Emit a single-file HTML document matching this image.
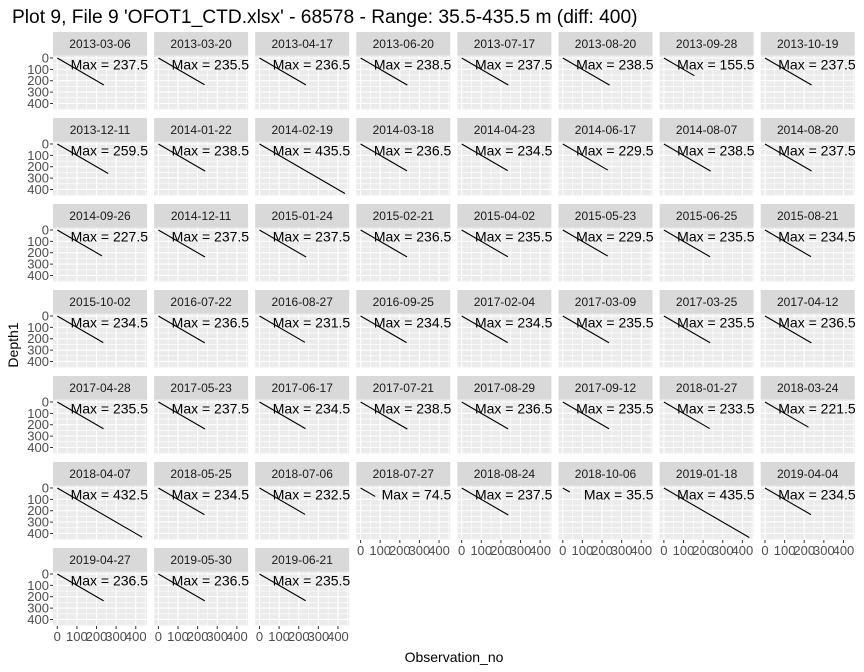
<!DOCTYPE html>
<html><head><meta charset="utf-8"><style>
body{margin:0;background:#fff;}
svg{display:block;font-family:"Liberation Sans",Arial,sans-serif;}
</style></head><body>
<svg id="chart" width="864" height="672" xmlns="http://www.w3.org/2000/svg">
<text x="12" y="23" font-size="19.2" fill="#000">Plot 9, File 9 'OFOT1_CTD.xlsx' - 68578 - Range: 35.5-435.5 m (diff: 400)</text>
<text x="454" y="662" font-size="14" text-anchor="middle" fill="#000">Observation_no</text>
<text transform="translate(18,345) rotate(-90)" font-size="14" text-anchor="middle" fill="#000">Depth1</text>
<g id="panels"></g>
</svg>
<script>
const dates=["2013-03-06","2013-03-20","2013-04-17","2013-06-20","2013-07-17","2013-08-20","2013-09-28","2013-10-19",
"2013-12-11","2014-01-22","2014-02-19","2014-03-18","2014-04-23","2014-06-17","2014-08-07","2014-08-20",
"2014-09-26","2014-12-11","2015-01-24","2015-02-21","2015-04-02","2015-05-23","2015-06-25","2015-08-21",
"2015-10-02","2016-07-22","2016-08-27","2016-09-25","2017-02-04","2017-03-09","2017-03-25","2017-04-12",
"2017-04-28","2017-05-23","2017-06-17","2017-07-21","2017-08-29","2017-09-12","2018-01-27","2018-03-24",
"2018-04-07","2018-05-25","2018-07-06","2018-07-27","2018-08-24","2018-10-06","2019-01-18","2019-04-04",
"2019-04-27","2019-05-30","2019-06-21"];
const maxDepth=[237.5,235.5,236.5,238.5,237.5,238.5,155.5,237.5,
259.5,238.5,435.5,236.5,234.5,229.5,238.5,237.5,
227.5,237.5,237.5,236.5,235.5,229.5,235.5,234.5,
234.5,236.5,231.5,234.5,234.5,235.5,235.5,236.5,
235.5,237.5,234.5,238.5,236.5,235.5,233.5,221.5,
432.5,234.5,232.5,74.5,237.5,35.5,435.5,234.5,
236.5,236.5,235.5];
const ticks=[0,100,200,300,400];
const minorTicks=[50,150,250,350,450];
const dMin=-21.8,dMax=457.3;
const NS="http://www.w3.org/2000/svg";
const root=document.getElementById('panels');
const X0=53,PW=94,GAP=7.1,Y0=32,SH=23.5,PH=54.5,RP=86;
function mk(tag,attrs,parent){const e=document.createElementNS(NS,tag);for(const k in attrs)e.setAttribute(k,attrs[k]);parent.appendChild(e);return e;}
dates.forEach((d,i)=>{
  const col=i%8,row=Math.floor(i/8);
  const px=X0+col*(PW+GAP),sy=Y0+row*RP,py=sy+SH;
  const sx=v=>px+(v-dMin)/(dMax-dMin)*PW;
  const syf=v=>py+(v-dMin)/(dMax-dMin)*PH;
  const g=mk('g',{},root);
  
  
  const strip=mk('rect',{x:px,y:sy,width:PW,height:SH,fill:'#D9D9D9'},g);
  
  
  const st=mk('text',{x:px+PW/2,y:sy+16,'font-size':12,'text-anchor':'middle',fill:'#1A1A1A'},g);
  st.textContent=d;
  
  
  const bg=mk('rect',{x:px,y:py,width:PW,height:PH,fill:'#EBEBEB'},g);
  
  
  minorTicks.forEach(t=>{
    if(t<=dMax){mk('line',{x1:sx(t),x2:sx(t),y1:py,y2:py+PH,stroke:'#fff','stroke-width':0.6},g);
    mk('line',{x1:px,x2:px+PW,y1:syf(t),y2:syf(t),stroke:'#fff','stroke-width':0.6},g);}
  });
  ticks.forEach(t=>{
    mk('line',{x1:sx(t),x2:sx(t),y1:py,y2:py+PH,stroke:'#fff','stroke-width':1.1},g);
    mk('line',{x1:px,x2:px+PW,y1:syf(t),y2:syf(t),stroke:'#fff','stroke-width':1.1},g);
  });
  const m=maxDepth[i];
  const ln=mk('line',{x1:sx(0),y1:syf(0),x2:sx(m),y2:syf(m),stroke:'#000','stroke-width':1.1},g);
  
  
  const lab=mk('text',{x:px+PW+1,y:py+14,'font-size':14,'text-anchor':'end',fill:'#000'},g);
  lab.textContent='Max = '+m;
  
  
  if(col===0){
    ticks.forEach(t=>{
      mk('line',{x1:px-3,x2:px,y1:syf(t),y2:syf(t),stroke:'#333','stroke-width':1},g);
      const tl=mk('text',{x:px-4,y:syf(t)+4.5,'font-size':13,'text-anchor':'end',fill:'#4D4D4D'},g);
      tl.textContent=t;
      
      
    });
  }
  if(i+8>=dates.length){
    ticks.forEach(t=>{
      mk('line',{x1:sx(t),x2:sx(t),y1:py+PH,y2:py+PH+3,stroke:'#333','stroke-width':1},g);
      const tl=mk('text',{x:sx(t),y:py+PH+15,'font-size':13,'text-anchor':'middle',fill:'#4D4D4D'},g);
      tl.textContent=t;
      
      
    });
  }
});
</script>
</body></html>
